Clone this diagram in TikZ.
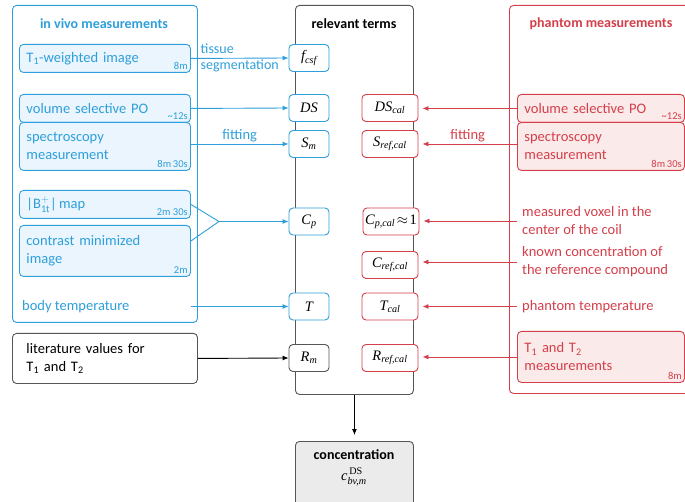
\documentclass[tikz,border=0pt]{standalone}
\usepackage{fontspec}
\usepackage{amsmath}
\setmainfont{Carlito}
\newfontfamily\termfont{Liberation Serif}
\usetikzlibrary{calc,arrows.meta}
\definecolor{bl}{HTML}{2E9FDB}
\definecolor{blfill}{HTML}{EAF5FD}
\definecolor{rd}{HTML}{D43F4A}
\definecolor{rdfill}{HTML}{FBEAEA}
\definecolor{gr}{HTML}{555555}
\definecolor{grfill}{HTML}{EBEBEB}
\newcommand\ti[1]{\text{\termfont\itshape #1}}
\begin{document}
\begin{tikzpicture}[x=1pt,y=-1pt,
  font=\fontsize{14.5}{18}\selectfont,
  outer/.style={draw, rounded corners=4pt, line width=0.9pt},
  mbox/.style={draw, rounded corners=4pt, line width=0.9pt, anchor=north west, inner xsep=7pt, inner ysep=0pt, align=left},
  tlab/.style={font=\fontsize{10.5}{11}\selectfont, anchor=south east, inner sep=3pt},
  term/.style={draw, fill=white, rounded corners=4pt, line width=0.9pt, minimum height=27pt, inner sep=1pt, font=\termfont\itshape\fontsize{14.5}{16}\selectfont},
  bterm/.style={term, draw=bl, text=black, minimum width=40pt},
  rterm/.style={term, draw=rd, text=black, minimum width=56pt},
  arr/.style={-{Latex[length=6pt,width=5pt]}, line width=0.9pt},
  title/.style={font=\bfseries\fontsize{14}{16}\selectfont}
]
\useasboundingbox (0,0) rectangle (685,502);

% outer frames
\node[outer, draw=bl, fill=white, minimum width=185pt, minimum height=317pt, anchor=north west] (vivo) at (12,5) {};
\node[title, text=bl] (vivot) at (104,24) {in vivo measurements};
\node[outer, draw=gr, fill=white, minimum width=118pt, minimum height=389pt, anchor=north west] (rt) at (295,5) {};
\node[title, text=black] (rtt) at (354,24) {relevant terms};
\node[outer, draw=rd, fill=white, minimum width=195pt, minimum height=388pt, anchor=north west] (ph) at (509,5) {};
\node[title, text=rd] (pht) at (601,24) {phantom measurements};

% in vivo boxes
\begin{scope}[every node/.append style={text=bl}]
\node[mbox, draw=bl, fill=blfill, text width=157pt, minimum height=28pt] (t1) at (19,44) {T\textsubscript{1}-weighted image};
\node[tlab] at (t1.south east) {8m};
\node[mbox, draw=bl, fill=blfill, text width=157pt, minimum height=28pt] (vs) at (19,94) {volume selective PO};
\node[tlab] at (vs.south east) {\textasciitilde12s};
\node[mbox, draw=bl, fill=blfill, text width=157pt, minimum height=48pt] (sp) at (19,122) {spectroscopy\\measurement};
\node[tlab] at (sp.south east) {8m\,30s};
\node[mbox, draw=bl, fill=blfill, text width=157pt, minimum height=28pt] (b1) at (19,190) {|B$^{+}_{\text{1t}}$|\,map};
\node[tlab] at (b1.south east) {2m 30s};
\node[mbox, draw=bl, fill=blfill, text width=157pt, minimum height=51pt] (cm) at (19,225) {contrast minimized\\image};
\node[tlab] at (cm.south east) {2m};
\node[anchor=west, inner sep=0pt] (bt) at (22,306.5) {body temperature};
\end{scope}

\node[mbox, draw=gr, fill=white, minimum height=50pt, inner xsep=14pt, text width=157pt] (lit) at (12,333) {literature values for\\T\textsubscript{1} and T\textsubscript{2}};

% phantom boxes
\begin{scope}[every node/.append style={text=rd}]
\node[mbox, draw=rd, fill=rdfill, text width=153pt, minimum height=28pt] (rvs) at (517,94) {volume selective PO};
\node[tlab] at (rvs.south east) {\textasciitilde12s};
\node[mbox, draw=rd, fill=rdfill, text width=153pt, minimum height=48pt] (rsp) at (517,122) {spectroscopy\\measurement};
\node[tlab] at (rsp.south east) {8m\,30s};
\node[anchor=west, inner xsep=5pt, align=left] (mv) at (517,221) {measured voxel in the\\center of the coil};
\node[anchor=west, inner xsep=5pt, align=left] (kc) at (517,262) {known concentration of\\the reference compound};
\node[anchor=west, inner xsep=5pt] (pt) at (517,306.5) {phantom temperature};
\node[mbox, draw=rd, fill=rdfill, text width=153pt, minimum height=51pt] (rt12) at (517,331) {T\textsubscript{1} and T\textsubscript{2}\\measurements};
\node[tlab] at (rt12.south east) {8m};
\end{scope}

% terms
\node[bterm] (fcsf) at (309,58) {$\ti{f}_{\ti{csf}}$};
\node[bterm] (DS) at (309,108) {DS};
\node[bterm] (Sm) at (309,144) {$\ti{S}_{\ti{m}}$};
\node[bterm] (Cp) at (309,221.5) {$\ti{C}_{\ti{p}}$};
\node[bterm] (T) at (309,306.5) {T};
\node[term, draw=gr, text=black, minimum width=40pt] (Rm) at (309,358) {$\ti{R}_{\ti{m}}$};

\node[rterm] (DScal) at (390,108) {$\ti{DS}_{\ti{cal}}$};
\node[rterm] (Sref) at (390,144) {$\ti{S}_{\ti{ref,cal}}$};
\node[rterm] (Cpcal) at (391,221.5) {$\ti{C}_{\ti{p,cal}}\!\approx\!\text{\termfont\upshape 1}$};
\node[rterm] (Cref) at (390,265) {$\ti{C}_{\ti{ref,cal}}$};
\node[rterm] (Tcal) at (390,306.5) {$\ti{T}_{\ti{cal}}$};
\node[rterm] (Rref) at (390,358) {$\ti{R}_{\ti{ref,cal}}$};

% concentration
\node[outer, draw=gr, fill=grfill, minimum width=118pt, minimum height=66pt, anchor=north west] (conc) at (295,441) {};
\node[title, inner sep=0pt] (conct) at (354,455) {concentration};
\node[inner sep=0pt, anchor=north] (concf) at (354,468) {\fontsize{14.5}{16}\selectfont$\ti{c}^{\,\text{\termfont\upshape DS}}_{\ti{bv,m}}$};

% blue connectors
\begin{scope}[bl, every node/.append style={text=bl}]
\draw[arr] (t1.east) -- node[align=left, inner sep=0pt, font=\fontsize{14}{16}\selectfont] {tissue\\segmentation} (fcsf.west);
\draw[arr] (vs.east) -- (DS.west);
\draw[arr] (sp.east |- Sm.west) -- node[above, inner sep=2pt] {fitting} (Sm.west);
\coordinate (J) at (219,221.5);
\draw[line width=0.9pt] (b1.east) -- (J) -- ($(cm.north east)+(0,16)$);
\draw[arr] (J) -- (Cp.west);
\draw[arr] (bt.east -| t1.east) -- (T.west);
\end{scope}

% black connectors
\draw[arr, black] (lit.east) -- (Rm.west);
\draw[arr, black, shorten >=6pt] (rt.south) -- (conc.north);

% red connectors
\begin{scope}[rd, every node/.append style={text=rd}]
\draw[arr, shorten >=4pt] (rvs.west) -- (rvs.west -| DScal.east);
\draw[arr, shorten >=4pt] (rsp.west |- Sref.east) -- node[above, inner sep=2pt] {fitting} (Sref.east);
\draw[arr, shorten >=4pt] (mv.west) -- (mv.west -| Cpcal.east);
\draw[arr, shorten >=4pt] (kc.west) -- (kc.west -| Cref.east);
\draw[arr, shorten >=4pt] (pt.west) -- (pt.west -| Tcal.east);
\draw[arr, shorten >=4pt] (rt12.west) -- (rt12.west -| Rref.east);
\end{scope}
\end{tikzpicture}
\end{document}
